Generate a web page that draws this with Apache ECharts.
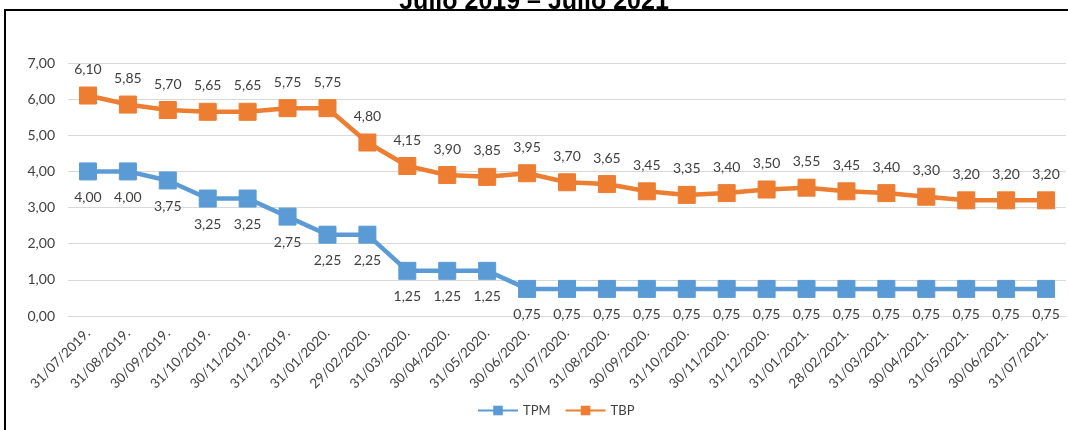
<!DOCTYPE html>
<html>
<head>
    <meta charset="UTF-8">
    <title>TPM / TBP</title>
    <script src="https://cdn.jsdelivr.net/npm/echarts@6/dist/echarts.min.js"></script>
    <style>
        body { margin: 0; background: #fff; }
    </style>
</head>
<body>
<div id="chart" style="width:1068px; height:430px;"></div>
<script>
    var fechas = ['31/07/2019.', '31/08/2019.', '30/09/2019.', '31/10/2019.', '30/11/2019.', '31/12/2019.',
        '31/01/2020.', '29/02/2020.', '31/03/2020.', '30/04/2020.', '31/05/2020.', '30/06/2020.',
        '31/07/2020.', '31/08/2020.', '30/09/2020.', '31/10/2020.', '30/11/2020.', '31/12/2020.',
        '31/01/2021.', '28/02/2021.', '31/03/2021.', '30/04/2021.', '31/05/2021.', '30/06/2021.', '31/07/2021.'];
    var tpm = [4.00, 4.00, 3.75, 3.25, 3.25, 2.75, 2.25, 2.25, 1.25, 1.25, 1.25, 0.75,
        0.75, 0.75, 0.75, 0.75, 0.75, 0.75, 0.75, 0.75, 0.75, 0.75, 0.75, 0.75, 0.75];
    var tbp = [6.10, 5.85, 5.70, 5.65, 5.65, 5.75, 5.75, 4.80, 4.15, 3.90, 3.85, 3.95,
        3.70, 3.65, 3.45, 3.35, 3.40, 3.50, 3.55, 3.45, 3.40, 3.30, 3.20, 3.20, 3.20];

    var fuente = 'Lato, "Open Sans", sans-serif';
    function coma(v) { return v.toFixed(2).replace('.', ','); }

    var chart = echarts.init(document.getElementById('chart'), null, {renderer: 'canvas'});
    var option = {
        animation: false,
        backgroundColor: '#fff',
        title: {
            text: 'Julio 2019 – Julio 2021',
            left: 'center',
            top: -15,
            textStyle: {fontFamily: '"Liberation Sans Narrow", "Liberation Sans", Arial', fontSize: 25, fontWeight: 'bold', color: '#000'}
        },
        // marco negro del recuadro original
        graphic: [{
            type: 'rect',
            shape: {x: 5, y: 10, width: 1100, height: 500},
            style: {fill: 'none', stroke: '#000', lineWidth: 2},
            silent: true
        }],
        legend: {
            bottom: 8,
            left: 472,
            itemWidth: 40,
            itemHeight: 12,
            itemGap: 14,
            textStyle: {fontFamily: fuente, fontSize: 13, color: '#404040'},
            data: ['TPM', 'TBP']
        },
        grid: {left: 68, right: 2, top: 63, bottom: 114},
        xAxis: {
            type: 'category',
            data: fechas,
            boundaryGap: true,
            axisLine: {show: true, lineStyle: {color: '#d9d9d9'}},
            axisTick: {show: false},
            axisLabel: {interval: 0, rotate: 45, fontFamily: fuente, fontSize: 13.5, color: '#404040', margin: 15}
        },
        yAxis: {
            type: 'value',
            min: 0,
            max: 7,
            interval: 1,
            axisLine: {show: false},
            axisTick: {show: false},
            axisLabel: {fontFamily: fuente, fontSize: 14, color: '#404040', margin: 13, formatter: coma},
            splitLine: {lineStyle: {color: '#d9d9d9', width: 1}}
        },
        series: [{
            name: 'TPM',
            type: 'line',
            data: tpm,
            symbol: 'rect',
            symbolSize: 17,
            lineStyle: {width: 4.5, color: '#5b9bd5'},
            itemStyle: {color: '#5b9bd5', borderColor: '#5b9bd5'},
            label: {show: true, position: 'bottom', distance: 10, fontFamily: fuente, fontSize: 14, color: '#404040', formatter: function (p) { return coma(p.value); }}
        }, {
            name: 'TBP',
            type: 'line',
            data: tbp,
            symbol: 'rect',
            symbolSize: 17,
            lineStyle: {width: 4.5, color: '#ed7d31'},
            itemStyle: {color: '#ed7d31', borderColor: '#ed7d31'},
            label: {show: true, position: 'top', distance: 10, fontFamily: fuente, fontSize: 14, color: '#404040', formatter: function (p) { return coma(p.value); }}
        }]
    };
    chart.setOption(option);
</script>
</body>
</html>
